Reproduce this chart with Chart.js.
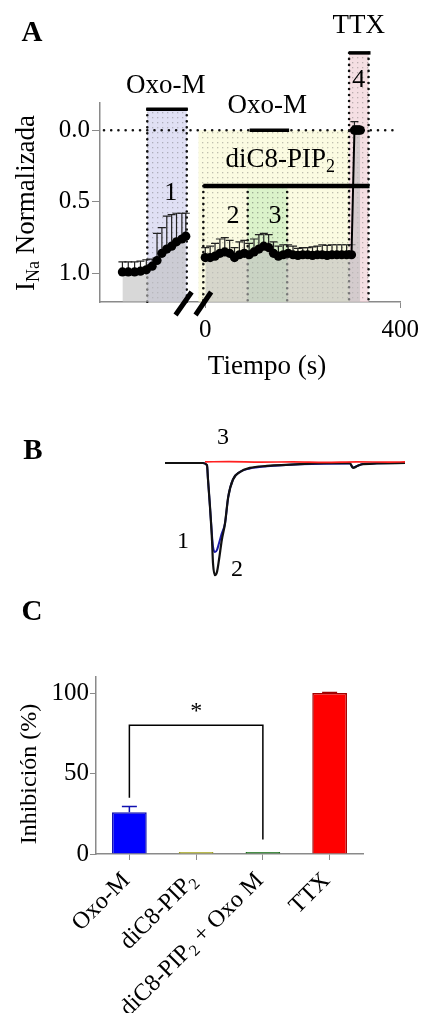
<!DOCTYPE html>
<html>
<head>
<meta charset="utf-8">
<script src="https://cdn.jsdelivr.net/npm/chart.js@4.4.1/dist/chart.umd.min.js"></script>
<style>
body { margin: 0; background: #fff; width: 426px; height: 1013px; position: relative; overflow: hidden; }
canvas { position: absolute; left: 0; }
</style>
</head>
<body>
<canvas id="panelA" width="426" height="390" style="top:0px"></canvas>
<canvas id="panelB" width="426" height="190" style="top:400px"></canvas>
<canvas id="panelC" width="426" height="423" style="top:590px"></canvas>
<script>
// ---- Panel A: curso temporal de I_Na normalizada ----
const tiempoControl = [-170, -158, -145, -133, -121, -109, -99, -89, -79, -69, -59, -48, -40]
const inaControl = [0.99, 0.99, 0.99, 0.985, 0.975, 0.95, 0.91, 0.86, 0.83, 0.81, 0.78, 0.76, 0.74]
const errControl = [0.07, 0.07, 0.07, 0.07, 0.07, 0.05, 0.19, 0.18, 0.23, 0.22, 0.20, 0.18, 0.16]

const tiempoPip = [0, 10, 20, 30, 40, 50, 60, 70, 80, 90, 100, 110, 120, 130, 140, 150, 160, 170, 180, 190,
    200, 210, 220, 230, 240, 250, 260, 270, 280, 290, 300, 306, 310, 314, 318]
const inaPip = [0.89, 0.89, 0.88, 0.86, 0.85, 0.86, 0.89, 0.87, 0.86, 0.87, 0.85, 0.83, 0.81, 0.82, 0.86, 0.88, 0.87, 0.86, 0.87, 0.875,
    0.87, 0.87, 0.875, 0.87, 0.87, 0.875, 0.87, 0.87, 0.87, 0.87, 0.87, 0.0, 0.0, 0.0, 0.0]
const errPip = [0.07, 0.08, 0.09, 0.10, 0.10, 0.09, 0.07, 0.09, 0.09, 0.08, 0.09, 0.10, 0.09, 0.09, 0.08, 0.07, 0.07, 0.06, 0.06, 0.05,
    0.05, 0.05, 0.06, 0.06, 0.07, 0.07, 0.07, 0.07, 0.07, 0.07, 0.07, 0.06, 0.03, 0.02, 0.02]

const ticksIna = [0, 0.5, 1.0]
const ticksTiempo = [0, 400]

// aplicaciones (s) y nivel de la barra (en unidades de I_Na)
const bandaOxo1 = [-119, -38]
const bandaPip = [-14, 295]
const bandaOxo2 = [87, 168]
const bandaTtx = [295, 335]
const barraOxo1 = [-121, -36, -0.146]
const barraOxo2 = [91, 172, 0.0]
const barraPip = [-4, 337, 0.39]
const barraTtx = [295, 339, -0.54]

// ---- Panel B: trazos de corriente ----
const tiempoTraza = [0, 2.5, 4.75, 5.25, 5.375, 5.625, 5.875, 6.0, 6.25, 6.5, 6.75, 7.1, 7.5, 7.9, 8.5, 9.4, 10.6, 12.75, 16.9, 23.1, 23.5, 24.1, 24.75, 30]
const trazaNegra = [0, 0, 0, -0.02, -0.15, -0.40, -0.70, -0.91, -1.02, -0.99, -0.88, -0.70, -0.55, -0.31, -0.15, -0.08, -0.045, -0.027, -0.01, 0, -0.045, -0.025, -0.01, 0]
const trazaAzul = [0, 0, 0, -0.02, -0.15, -0.40, -0.66, -0.76, -0.81, -0.79, -0.73, -0.64, -0.55, -0.31, -0.15, -0.08, -0.05, -0.03, -0.012, -0.004, -0.04, -0.025, -0.01, 0]
const tiempoRoja = [5, 8, 12, 16, 20, 24, 28, 30]
const trazaRoja = [0.01, 0.012, 0.008, 0.01, 0.006, 0.01, 0.008, 0.01]

// ---- Panel C: inhibicion ----
const grupos = ['Oxo-M', 'diC8-PIP2', 'diC8-PIP2 + Oxo M', 'TTX']
const inhibicion = [26, 1.2, 1.2, 100]
const errInhibicion = [3.5, 0, 0, 0.4]
const ticksInhib = [0, 50, 100]

const serif = '"Liberation Serif", "Times New Roman", serif'
const gris = '#8a8a8a'

function texto(ctx, t, x, y, size, bold) {
    ctx.font = (bold ? 'bold ' : '') + size + 'px ' + serif
    ctx.textAlign = 'center'
    ctx.textBaseline = 'middle'
    ctx.fillStyle = '#000'
    ctx.fillText(t, x, y)
}

// partes: [[texto, esSubindice], ...]; alinea al centro o a la derecha de x
function textoPartes(ctx, partes, x, y, size, derecha) {
    const sizeSub = Math.round(size * 0.65)
    const anchos = partes.map(([t, sub]) => {
        ctx.font = (sub ? sizeSub : size) + 'px ' + serif
        return ctx.measureText(t).width
    })
    const total = anchos.reduce((a, b) => a + b, 0)
    let cx = derecha ? x - total : x - total / 2
    ctx.textAlign = 'left'
    ctx.textBaseline = 'middle'
    ctx.fillStyle = '#000'
    partes.forEach(([t, sub], i) => {
        ctx.font = (sub ? sizeSub : size) + 'px ' + serif
        ctx.fillText(t, cx, sub ? y + size * 0.27 : y)
        cx += anchos[i]
    })
}

// "diC8-PIP2" -> subindice en el 2 final de PIP
function partesPip(t) {
    return t.split(/(?<=PIP)(2)/).map((p, i) => [p, i % 2 === 1]).filter(p => p[0] !== '')
}

function punteada(ctx, x1, y1, x2, y2, paso) {
    ctx.save()
    ctx.strokeStyle = '#111'
    ctx.lineWidth = 2.6
    ctx.lineCap = 'round'
    ctx.setLineDash([0.01, paso])
    ctx.beginPath()
    ctx.moveTo(x1, y1)
    ctx.lineTo(x2, y2)
    ctx.stroke()
    ctx.restore()
}

function patron(ctx, fondo) {
    const c = document.createElement('canvas')
    c.width = 5
    c.height = 5
    const g = c.getContext('2d')
    g.fillStyle = fondo
    g.fillRect(0, 0, 5, 5)
    g.fillStyle = 'rgba(80,80,80,0.35)'
    g.fillRect(2, 2, 1.3, 1.3)
    return ctx.createPattern(c, 'repeat')
}

function errores(ctx, xs, ys, errs, sx, sy) {
    ctx.save()
    ctx.strokeStyle = '#222'
    ctx.lineWidth = 1.2
    xs.forEach((t, i) => {
        const px = sx.getPixelForValue(t)
        const p0 = sy.getPixelForValue(ys[i])
        const p1 = sy.getPixelForValue(ys[i] - errs[i])
        ctx.beginPath()
        ctx.moveTo(px, p0)
        ctx.lineTo(px, p1)
        ctx.moveTo(px - 4, p1)
        ctx.lineTo(px + 4, p1)
        ctx.stroke()
    })
    ctx.restore()
}

const pluginA = {
    id: 'panelA',
    beforeDatasetsDraw(chart) {
        const { ctx, scales: { x, y } } = chart
        const fondo = y.getPixelForValue(y.max)
        const banda = (r, arriba, color) => {
            const x1 = x.getPixelForValue(r[0])
            const x2 = x.getPixelForValue(r[1])
            const y1 = y.getPixelForValue(arriba)
            ctx.fillStyle = patron(ctx, color)
            ctx.fillRect(x1, y1, x2 - x1, fondo - y1)
        }
        banda(bandaOxo1, barraOxo1[2], 'rgba(214,214,240,0.75)')
        banda(bandaPip, 0.0, 'rgba(250,250,212,0.7)')
        banda(bandaOxo2, barraPip[2], 'rgba(205,240,192,0.7)')
        banda(bandaTtx, barraTtx[2], 'rgba(242,212,218,0.75)')

        const vert = (t, arriba) => {
            const px = x.getPixelForValue(t)
            punteada(ctx, px, y.getPixelForValue(arriba), px, fondo, 6)
        }
        vert(bandaOxo1[0], barraOxo1[2])
        vert(bandaOxo1[1], barraOxo1[2])
        vert(barraPip[0], barraPip[2])
        vert(bandaOxo2[0], barraPip[2])
        vert(bandaOxo2[1], barraPip[2])
        vert(bandaTtx[0], barraTtx[2])
        vert(bandaTtx[1], barraTtx[2])

        const y0 = y.getPixelForValue(0)
        punteada(ctx, x.left + 4, y0, x.right - 3, y0, 7.2)

        errores(ctx, tiempoControl, inaControl, errControl, x, y)
        errores(ctx, tiempoPip, inaPip, errPip, x, y)
    },
    afterDraw(chart) {
        const { ctx, scales: { x, y } } = chart
        ctx.save()
        ctx.strokeStyle = '#000'
        const barra = (b, ancho) => {
            ctx.lineWidth = ancho
            ctx.beginPath()
            ctx.moveTo(x.getPixelForValue(b[0]), y.getPixelForValue(b[2]))
            ctx.lineTo(x.getPixelForValue(b[1]), y.getPixelForValue(b[2]))
            ctx.stroke()
        }
        barra(barraOxo1, 3.5)
        barra(barraOxo2, 3.5)
        barra(barraPip, 4.5)
        barra(barraTtx, 3.5)

        // corte del eje
        const yb = y.getPixelForValue(y.max)
        ctx.lineWidth = 5
        ctx.beginPath()
        ctx.moveTo(x.getPixelForValue(-61), yb + 13)
        ctx.lineTo(x.getPixelForValue(-28), yb - 10)
        ctx.moveTo(x.getPixelForValue(-20), yb + 13)
        ctx.lineTo(x.getPixelForValue(12), yb - 10)
        ctx.stroke()
        ctx.restore()

        texto(ctx, 'Oxo-M', x.getPixelForValue(-81), y.getPixelForValue(-0.31), 27)
        texto(ctx, 'Oxo-M', x.getPixelForValue(127), y.getPixelForValue(-0.17), 27)
        textoPartes(ctx, partesPip('diC8-PIP2'), x.getPixelForValue(154), y.getPixelForValue(0.21), 27)
        texto(ctx, 'TTX', x.getPixelForValue(315), y.getPixelForValue(-0.73), 27)
        texto(ctx, '4', x.getPixelForValue(315), y.getPixelForValue(-0.35), 26)
        texto(ctx, '1', x.getPixelForValue(-71), y.getPixelForValue(0.44), 26)
        texto(ctx, '2', x.getPixelForValue(57), y.getPixelForValue(0.60), 26)
        texto(ctx, '3', x.getPixelForValue(143), y.getPixelForValue(0.60), 26)

        texto(ctx, 'A', 32, 34, 29, true)
        texto(ctx, 'Tiempo (s)', 267, 367, 27)

        ctx.save()
        ctx.translate(27, 203)
        ctx.rotate(-Math.PI / 2)
        textoPartes(ctx, [['I', false], ['Na', true], [' Normalizada', false]], 0, 0, 27)
        ctx.restore()
    }
}

new Chart(document.getElementById('panelA'), {
    type: 'line',
    data: {
        datasets: [
            {
                data: tiempoControl.map((t, i) => ({ x: t, y: inaControl[i] })),
                borderColor: '#000',
                borderWidth: 2,
                backgroundColor: 'rgba(190,190,190,0.6)',
                pointBackgroundColor: '#000',
                pointBorderWidth: 0,
                pointRadius: 4.6,
                fill: { value: 1.2 }
            },
            {
                data: tiempoPip.map((t, i) => ({ x: t, y: inaPip[i] })),
                borderColor: '#000',
                borderWidth: 2,
                backgroundColor: 'rgba(190,190,190,0.6)',
                pointBackgroundColor: '#000',
                pointBorderWidth: 0,
                pointRadius: 4.6,
                fill: { value: 1.2 }
            }
        ]
    },
    options: {
        responsive: false,
        animation: false,
        layout: { padding: { top: 103, right: 21, left: 0, bottom: 0 } },
        plugins: { legend: { display: false }, tooltip: { enabled: false } },
        scales: {
            x: {
                type: 'linear',
                min: -216,
                max: 400,
                afterFit: s => { s.height = 88 },
                afterBuildTicks: s => { s.ticks = ticksTiempo.map(v => ({ value: v })) },
                grid: { drawOnChartArea: false, tickLength: 6, color: gris },
                border: { color: gris, width: 1.5 },
                ticks: { color: '#000', padding: 7, font: { family: serif, size: 25 } }
            },
            y: {
                reverse: true,
                min: -0.19,
                max: 1.2,
                afterFit: s => { s.width = 100 },
                afterBuildTicks: s => { s.ticks = ticksIna.map(v => ({ value: v })) },
                grid: { drawOnChartArea: false, tickLength: 8, color: gris },
                border: { color: gris, width: 1.5 },
                ticks: { color: '#000', padding: 2, font: { family: serif, size: 25 }, callback: v => v.toFixed(1) }
            }
        }
    },
    plugins: [pluginA]
})

// ---- Panel B ----
const pluginB = {
    id: 'panelB',
    afterDraw(chart) {
        const { ctx, scales: { x, y } } = chart
        texto(ctx, 'B', 33, 52, 29, true)
        texto(ctx, '3', x.getPixelForValue(7.25), y.getPixelForValue(0.23), 24)
        texto(ctx, '1', x.getPixelForValue(2.25), y.getPixelForValue(-0.72), 24)
        texto(ctx, '2', x.getPixelForValue(9), y.getPixelForValue(-0.97), 24)
    }
}

// el primer conjunto se dibuja encima: rojo, luego negro, luego azul debajo
new Chart(document.getElementById('panelB'), {
    type: 'line',
    data: {
        datasets: [
            {
                data: tiempoRoja.map((t, i) => ({ x: t, y: trazaRoja[i] })),
                borderColor: '#ff2020',
                borderWidth: 1.6,
                pointRadius: 0,
                cubicInterpolationMode: 'monotone'
            },
            {
                data: tiempoTraza.map((t, i) => ({ x: t, y: trazaNegra[i] })),
                borderColor: '#111',
                borderWidth: 2.2,
                pointRadius: 0,
                cubicInterpolationMode: 'monotone'
            },
            {
                data: tiempoTraza.map((t, i) => ({ x: t, y: trazaAzul[i] })),
                borderColor: '#1a1aa8',
                borderWidth: 2,
                pointRadius: 0,
                cubicInterpolationMode: 'monotone'
            }
        ]
    },
    options: {
        responsive: false,
        animation: false,
        layout: { padding: { top: 40, right: 21, left: 165, bottom: 10 } },
        plugins: { legend: { display: false }, tooltip: { enabled: false } },
        scales: {
            x: { type: 'linear', min: 0, max: 30, display: false },
            y: { min: -1.064, max: 0.209, display: false }
        }
    },
    plugins: [pluginB]
})

// ---- Panel C ----
const coloresC = ['#0000ff', '#c8c83c', '#2e8b2e', '#ff0000']
const bordesC = ['#1010b0', '#a0a020', '#1a6e1a', '#a00000']

const pluginC = {
    id: 'panelC',
    afterDatasetsDraw(chart) {
        const { ctx, scales: { x, y } } = chart
        ctx.save()
        ctx.lineWidth = 1.5
        inhibicion.forEach((v, i) => {
            if (!errInhibicion[i]) return
            const px = x.getPixelForValue(i)
            const p0 = y.getPixelForValue(v)
            const p1 = y.getPixelForValue(v + errInhibicion[i])
            ctx.strokeStyle = bordesC[i]
            ctx.beginPath()
            ctx.moveTo(px, p0)
            ctx.lineTo(px, p1)
            ctx.moveTo(px - 7.5, p1)
            ctx.lineTo(px + 7.5, p1)
            ctx.stroke()
        })

        // significancia Oxo-M vs diC8-PIP2 + Oxo M
        const xa = x.getPixelForValue(0)
        const xb = x.getPixelForValue(2)
        ctx.strokeStyle = '#000'
        ctx.beginPath()
        ctx.moveTo(xa, y.getPixelForValue(35))
        ctx.lineTo(xa, y.getPixelForValue(80))
        ctx.lineTo(xb, y.getPixelForValue(80))
        ctx.lineTo(xb, y.getPixelForValue(9))
        ctx.stroke()
        ctx.restore()
        texto(ctx, '*', x.getPixelForValue(1), y.getPixelForValue(88.5), 24)
    },
    afterDraw(chart) {
        const { ctx, scales: { x } } = chart
        // etiquetas de categorias giradas 45 grados, con subindice
        grupos.forEach((g, i) => {
            ctx.save()
            ctx.translate(x.getPixelForValue(i) - 3, x.top + 23)
            ctx.rotate(-Math.PI / 4)
            textoPartes(ctx, partesPip(g), 0, 0, 24, true)
            ctx.restore()
        })
        texto(ctx, 'C', 32, 23, 29, true)
        ctx.save()
        ctx.translate(30, 184)
        ctx.rotate(-Math.PI / 2)
        texto(ctx, 'Inhibición (%)', 0, 0, 24)
        ctx.restore()
    }
}

new Chart(document.getElementById('panelC'), {
    type: 'bar',
    data: {
        labels: grupos,
        datasets: [{
            data: inhibicion,
            backgroundColor: coloresC,
            borderColor: bordesC,
            borderWidth: 1.5,
            barPercentage: 0.52,
            categoryPercentage: 1
        }]
    },
    options: {
        responsive: false,
        animation: false,
        layout: { padding: { top: 87, right: 63, left: 0, bottom: 0 } },
        plugins: { legend: { display: false }, tooltip: { enabled: false } },
        scales: {
            x: {
                afterFit: s => { s.height = 159 },
                grid: { drawOnChartArea: false, offset: false, tickLength: 6, color: gris },
                border: { color: gris, width: 1.5 },
                ticks: { display: false }
            },
            y: {
                min: 0,
                max: 110,
                afterFit: s => { s.width = 96 },
                afterBuildTicks: s => { s.ticks = ticksInhib.map(v => ({ value: v })) },
                grid: { drawOnChartArea: false, tickLength: 6, color: gris },
                border: { color: gris, width: 1.5 },
                ticks: { color: '#000', padding: 1, font: { family: serif, size: 25 } }
            }
        }
    },
    plugins: [pluginC]
})
</script>
</body>
</html>
